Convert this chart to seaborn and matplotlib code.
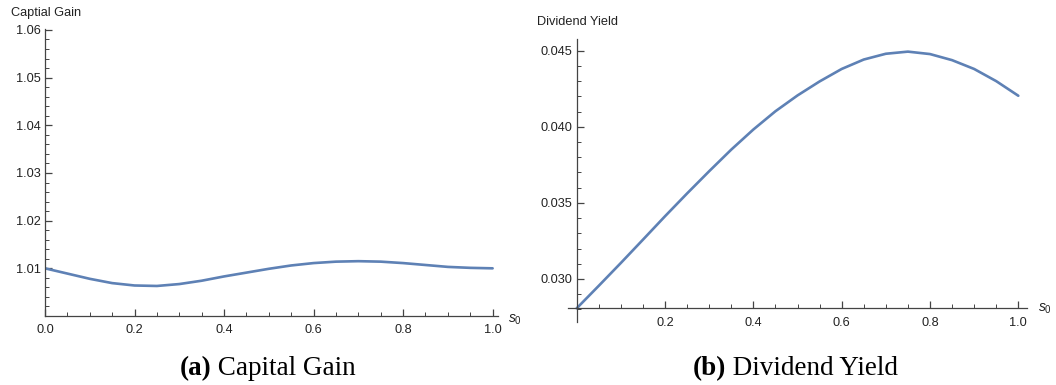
import matplotlib
matplotlib.use("Agg")
import matplotlib.pyplot as plt
import seaborn as sns
import pandas as pd
from matplotlib.ticker import MultipleLocator, FixedLocator, FormatStrFormatter

# State variable grid
s0 = [0.00, 0.05, 0.10, 0.15, 0.20, 0.25, 0.30, 0.35, 0.40, 0.45, 0.50,
      0.55, 0.60, 0.65, 0.70, 0.75, 0.80, 0.85, 0.90, 0.95, 1.00]

# Capital gain as a function of s0
capital_gain = [1.0100, 1.0089, 1.0078, 1.0069, 1.0064, 1.0063, 1.0067, 1.0074,
                1.0083, 1.0091, 1.0099, 1.0106, 1.0111, 1.0114, 1.0115, 1.0114,
                1.0111, 1.0107, 1.0103, 1.0101, 1.0100]

# Dividend yield as a function of s0
dividend_yield = [0.02807, 0.02955, 0.03105, 0.03258, 0.03412, 0.03562, 0.03708,
                  0.03850, 0.03982, 0.04102, 0.04206, 0.04298, 0.04380, 0.04442,
                  0.04480, 0.04494, 0.04478, 0.04438, 0.04380, 0.04300, 0.04204]

cg_ticks = [1.01, 1.02, 1.03, 1.04, 1.05, 1.06]
dy_ticks = [0.030, 0.035, 0.040, 0.045]
x_ticks_a = [0.0, 0.2, 0.4, 0.6, 0.8, 1.0]
x_ticks_b = [0.2, 0.4, 0.6, 0.8, 1.0]

sns.set_theme(style="white")
plt.rcParams["font.family"] = ["Liberation Sans", "DejaVu Sans"]
plt.rcParams["mathtext.fontset"] = "custom"
plt.rcParams["mathtext.it"] = "Liberation Sans:italic"
plt.rcParams["mathtext.rm"] = "Liberation Sans"

LINE = "#5E81B5"
AXC = "#444444"
TXT = "#222222"

W, H = 1056, 385
fig = plt.figure(figsize=(W / 100, H / 100), dpi=100)


def axes_px(left, top, right, bottom):
    return fig.add_axes([left / W, 1 - bottom / H, (right - left) / W, (bottom - top) / H])


def style_axes(ax, x_origin, y_origin):
    for side in ("top", "right"):
        ax.spines[side].set_visible(False)
    ax.spines["left"].set_position(("data", x_origin))
    ax.spines["bottom"].set_position(("data", y_origin))
    for side in ("left", "bottom"):
        ax.spines[side].set_color(AXC)
        ax.spines[side].set_linewidth(0.9)
    ax.tick_params(which="major", direction="in", length=5, width=0.9, color=AXC,
                   labelsize=9.2, labelcolor=TXT, left=True, bottom=True)
    ax.tick_params(which="minor", direction="in", length=3, width=0.7, color=AXC,
                   left=True, bottom=True)
    ax.tick_params(axis="y", pad=3)
    ax.tick_params(axis="x", pad=6)
    ax.set_xlabel("")
    ax.set_ylabel("")
    ax.grid(False)
    ax.patch.set_alpha(0)


# (a) Capital gain
df_a = pd.DataFrame({"s0": s0, "value": capital_gain})
ax1 = axes_px(45, 29, 498, 316)
sns.lineplot(data=df_a, x="s0", y="value", ax=ax1, color=LINE, linewidth=1.9)
ax1.set_xlim(0, 1.012)
ax1.set_ylim(1.0, 1.0602)
ax1.xaxis.set_major_locator(FixedLocator(x_ticks_a))
ax1.xaxis.set_major_formatter(FormatStrFormatter("%.1f"))
ax1.xaxis.set_minor_locator(MultipleLocator(0.05))
ax1.yaxis.set_major_locator(FixedLocator(cg_ticks))
ax1.yaxis.set_major_formatter(FormatStrFormatter("%.2f"))
ax1.yaxis.set_minor_locator(MultipleLocator(0.002))
style_axes(ax1, 0.0, 1.0)
ax1.text(1.035, 0.9992, "$s_0$", transform=ax1.transData, fontsize=10,
         color=TXT, ha="left", va="center", clip_on=False)

# (b) Dividend yield
df_b = pd.DataFrame({"s0": s0, "value": dividend_yield})
ax2 = axes_px(568.3, 39, 1026.7, 322.3)
sns.lineplot(data=df_b, x="s0", y="value", ax=ax2, color=LINE, linewidth=1.9)
ax2.set_xlim(-0.019, 1.019)
ax2.set_ylim(0.02715, 0.04577)
ax2.xaxis.set_major_locator(FixedLocator(x_ticks_b))
ax2.xaxis.set_major_formatter(FormatStrFormatter("%.1f"))
ax2.xaxis.set_minor_locator(FixedLocator([0.05, 0.1, 0.15, 0.25, 0.3, 0.35, 0.45, 0.5,
                                          0.55, 0.65, 0.7, 0.75, 0.85, 0.9, 0.95]))
ax2.yaxis.set_major_locator(FixedLocator(dy_ticks))
ax2.yaxis.set_major_formatter(FormatStrFormatter("%.3f"))
ax2.yaxis.set_minor_locator(MultipleLocator(0.001))
style_axes(ax2, 0.0, 0.02807)
ax2.text(1.045, 0.02807, "$s_0$", transform=ax2.transData, fontsize=10,
         color=TXT, ha="left", va="center", clip_on=False)

# Axis titles placed at the top-left of each panel
fig.text(11 / W, 1 - 13 / H, "Captial Gain", fontsize=9.2, color=TXT, ha="left", va="center")
fig.text(537 / W, 1 - 22 / H, "Dividend Yield", fontsize=9.2, color=TXT, ha="left", va="center")

# Sub-figure captions: bold tag followed by regular text, centred as a whole
serif = ["Liberation Serif", "DejaVu Serif"]
CAP_SIZE = 19.5
fig.canvas.draw()
renderer = fig.canvas.get_renderer()
for cx, tag, label in ((266.7, "(a)", "Capital Gain"), (795.0, "(b)", "Dividend Yield")):
    y = 1 - 375 / H
    probe = fig.text(0, y, tag + " " + label, fontsize=CAP_SIZE, family=serif,
                     ha="left", va="baseline")
    total_w = probe.get_window_extent(renderer).width
    probe.remove()
    left = (cx - total_w / 2) / W
    t1 = fig.text(left, y, tag, fontsize=CAP_SIZE, family=serif, weight="bold",
                  color="black", ha="left", va="baseline")
    b1 = t1.get_window_extent(renderer)
    fig.text(b1.x1 / W, y, " " + label, fontsize=CAP_SIZE, family=serif,
             color="black", ha="left", va="baseline")

fig.savefig("out.png", dpi=100)
